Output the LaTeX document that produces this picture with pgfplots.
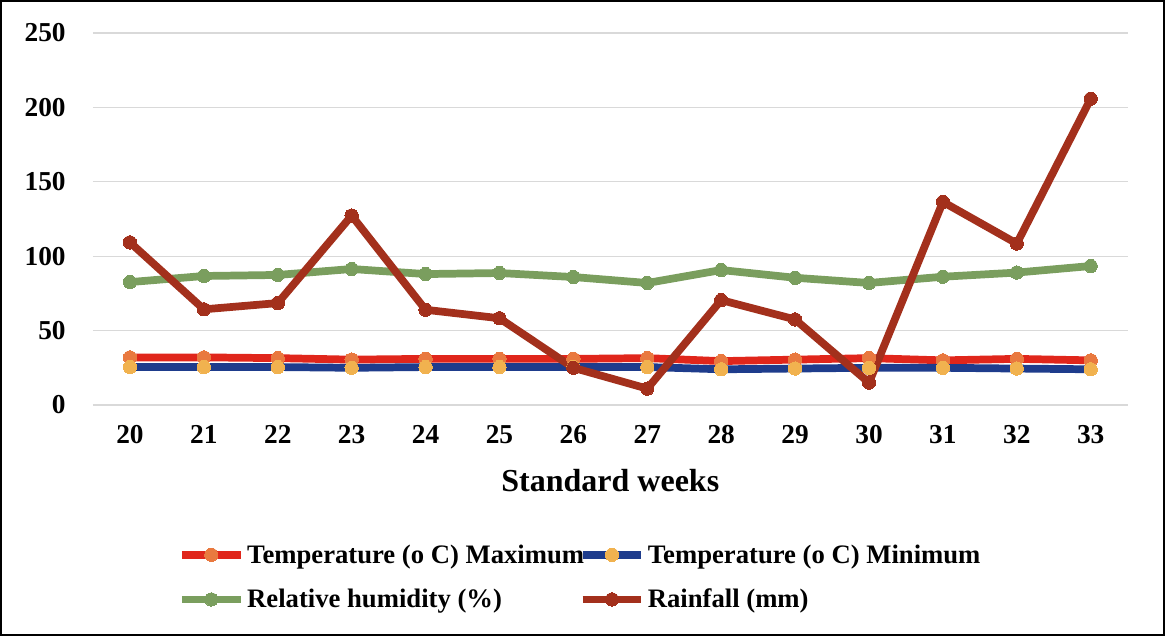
\documentclass[border=0pt]{standalone}
\usepackage{fontspec}
\setmainfont{Liberation Serif}
\usepackage{pgfplots}
\pgfplotsset{compat=1.18}

\definecolor{tmaxline}{HTML}{E0261B}
\definecolor{tmaxmark}{HTML}{E9793F}
\definecolor{tminline}{HTML}{1E3C8C}
\definecolor{tminmark}{HTML}{F1B24F}
\definecolor{rhline}{HTML}{7A9E5E}
\definecolor{rainline}{HTML}{A3301C}
\definecolor{gridgray}{HTML}{D9D9D9}

\begin{document}
\begin{tikzpicture}
\begin{axis}[
  at={(0,0)}, anchor=south west,
  scale only axis,
  width=776pt, height=279pt,
  xmin=19.5, xmax=33.5,
  ymin=0, ymax=250,
  xtick={20,...,33},
  ytick={0,50,...,250},
  axis line style={draw=none},
  tick style={draw=none},
  ymajorgrids,
  grid style={gridgray, line width=0.8pt},
  /pgf/number format/assume math mode=true,
  ticklabel style={font=\fontsize{20.5}{24}\selectfont\bfseries},
  yticklabel style={xshift=-17pt},
  xticklabel style={yshift=-12pt},
  xlabel={Standard weeks},
  xlabel style={font=\fontsize{24}{28}\selectfont\bfseries, yshift=-12pt},
  legend columns=2,
  legend style={
    draw=none, fill=none,
    at={(0.082,-0.36)}, anchor=north west,
    font=\fontsize{20}{23}\selectfont\bfseries,
    /tikz/every even column/.append style={column sep=-6pt},
    row sep=14pt,
    inner xsep=0pt,
  },
  legend cell align=left,
  legend image code/.code={
    \draw[mark repeat=2, mark phase=2, #1]
      plot coordinates {(0pt,0pt) (22pt,0pt) (44pt,0pt)};
  },
  every axis plot/.append style={line width=5.8pt, mark=*, mark size=5pt},
]
\addplot[tmaxline, mark options={fill=tmaxmark, draw=tmaxmark, line width=0pt}] coordinates {
  (20,32) (21,32) (22,31.5) (23,30.5) (24,31) (25,31) (26,31)
  (27,31.5) (28,29.5) (29,30.5) (30,31.5) (31,30) (32,31) (33,30)};
\addlegendentry{Temperature (o C) Maximum}
\addplot[tminline, mark options={fill=tminmark, draw=tminmark, line width=0pt}] coordinates {
  (20,25.5) (21,25.5) (22,25.5) (23,25) (24,25.5) (25,25.5) (26,25.5)
  (27,25.5) (28,24) (29,24.5) (30,25) (31,25) (32,24.5) (33,24)};
\addlegendentry{Temperature (o C) Minimum}
\addplot[rhline, mark options={fill=rhline, draw=rhline, line width=0pt}] coordinates {
  (20,82.6) (21,86.7) (22,87.4) (23,91.4) (24,88) (25,88.7) (26,86)
  (27,82) (28,90.7) (29,85.5) (30,82) (31,86.2) (32,89) (33,93.4)};
\addlegendentry{Relative humidity (\%)}
\addplot[rainline, mark options={fill=rainline, draw=rainline, line width=0pt}] coordinates {
  (20,109.3) (21,64.3) (22,68.5) (23,127.3) (24,64) (25,58.3) (26,25)
  (27,11) (28,70.5) (29,57.5) (30,15) (31,136.5) (32,108.5) (33,205.8)};
\addlegendentry{Rainfall (mm)}
\end{axis}
% outer frame
\draw[black, line width=1.5pt] (-69pt,-172.5pt) rectangle (803.25pt,303pt);
\end{tikzpicture}
\end{document}
